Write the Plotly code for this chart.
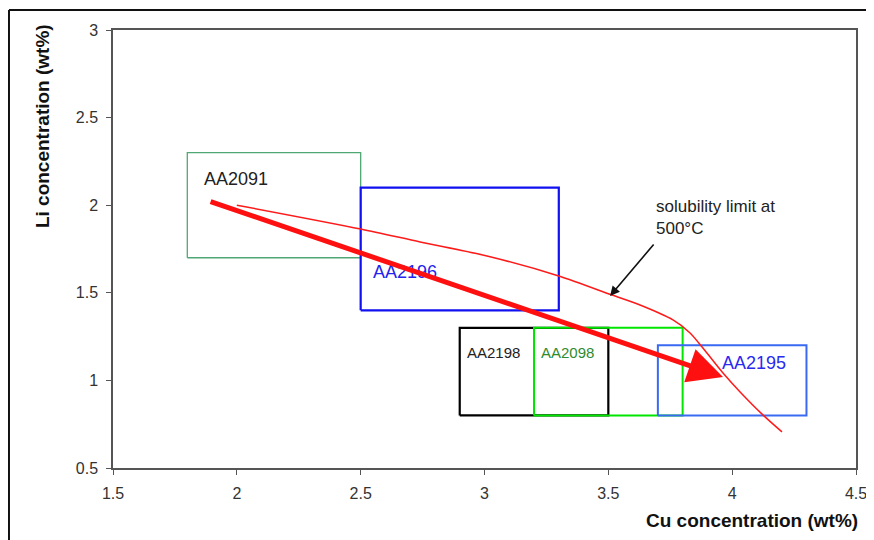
import plotly.graph_objects as go

# ---- data ----
alloys = ["AA2091", "AA2196", "AA2198", "AA2098", "AA2195"]
cu_min = [1.8, 2.5, 2.9, 3.2, 3.7]
cu_max = [2.5, 3.3, 3.5, 3.8, 4.3]
li_min = [1.7, 1.4, 0.8, 0.8, 0.8]
li_max = [2.3, 2.1, 1.3, 1.3, 1.2]
box_colors = ["#4fa874", "#1010f0", "#000000", "#00e600", "#3a6af2"]
box_widths = [1.3, 2.2, 2.2, 2.0, 2.0]
label_colors = ["#222222", "#2323ee", "#222222", "#2e8b2e", "#2a2aee"]
label_sizes = [18, 18, 15, 15, 18]
label_x = [1.86, 2.54, 2.92, 3.22, 3.95]
label_y = [2.15, 1.62, 1.16, 1.16, 1.1]

sol_cu = [2.0, 2.5, 2.74, 3.01, 3.30, 3.515, 3.628, 3.761, 3.83, 3.898, 3.963, 4.032, 4.124, 4.201]
sol_li = [2.0, 1.864, 1.79, 1.71, 1.596, 1.487, 1.43, 1.345, 1.271, 1.156, 1.042, 0.934, 0.803, 0.706]

trend_start = [1.888, 2.024]
trend_end = [3.963, 1.019]

note_text = "solubility limit at<br>500°C"
note_tail = [3.688, 1.784]
note_tip = [3.507, 1.482]

x_ticks = [1.5, 2, 2.5, 3, 3.5, 4, 4.5]
y_ticks = [0.5, 1, 1.5, 2, 2.5, 3]

FONT = "Arial, 'Liberation Sans', sans-serif"

fig = go.Figure()

# boxes
for i in range(len(alloys)):
    fig.add_trace(go.Scatter(
        x=[cu_min[i], cu_max[i], cu_max[i], cu_min[i], cu_min[i]],
        y=[li_min[i], li_min[i], li_max[i], li_max[i], li_min[i]],
        mode="lines", line=dict(color=box_colors[i], width=box_widths[i]),
        hoverinfo="skip", showlegend=False))

# solubility curve
fig.add_trace(go.Scatter(x=sol_cu, y=sol_li, mode="lines",
                         line=dict(color="#ff1a1a", width=1.5, shape="spline", smoothing=0.8),
                         showlegend=False, hoverinfo="skip"))

annotations = []
for i in range(len(alloys)):
    annotations.append(dict(x=label_x[i], y=label_y[i], xref="x", yref="y",
                            text=alloys[i], showarrow=False, xanchor="left",
                            yanchor="middle",
                            font=dict(family=FONT, size=label_sizes[i], color=label_colors[i])))

# thick trend arrow
annotations.append(dict(x=trend_end[0], y=trend_end[1], ax=trend_start[0], ay=trend_start[1],
                        xref="x", yref="y", axref="x", ayref="y", text="",
                        showarrow=True, arrowhead=2, arrowsize=1.4, arrowwidth=5,
                        arrowcolor="#ff1010", standoff=0))

# note arrow
annotations.append(dict(x=note_tip[0], y=note_tip[1], ax=note_tail[0], ay=note_tail[1],
                        xref="x", yref="y", axref="x", ayref="y", text="",
                        showarrow=True, arrowhead=2, arrowsize=1.2, arrowwidth=1.6,
                        arrowcolor="#111111", standoff=0))
annotations.append(dict(x=3.685, y=1.8, xref="x", yref="y", text=note_text,
                        showarrow=False, xanchor="left", yanchor="bottom", align="left",
                        font=dict(family=FONT, size=17, color="#222222")))

# axis titles
annotations.append(dict(x=1.005, y=-0.119, xref="paper", yref="paper",
                        text="<b>Cu concentration (wt%)</b>", showarrow=False,
                        xanchor="right", yanchor="middle",
                        font=dict(family=FONT, size=19, color="#111111")))
annotations.append(dict(x=-0.0956, y=1.018, xref="paper", yref="paper",
                        text="<b>Li concentration (wt%)</b>", showarrow=False,
                        textangle=-90, xanchor="center", yanchor="top",
                        font=dict(family=FONT, size=19, color="#111111")))

fig.update_layout(
    width=866, height=532,
    margin=dict(l=105, r=18, t=22, b=72, autoexpand=False),
    paper_bgcolor="white", plot_bgcolor="white",
    annotations=annotations,
    shapes=[
        dict(type="line", xref="paper", yref="paper", x0=-0.140, x1=1.1, y0=1.0457, y1=1.0457,
             line=dict(color="#111111", width=2)),
        dict(type="line", xref="paper", yref="paper", x0=-0.140, x1=-0.140, y0=1.0457, y1=-0.2,
             line=dict(color="#111111", width=2)),
    ],
    xaxis=dict(range=[1.5, 4.5], tickvals=x_ticks, ticktext=[str(v) for v in x_ticks],
               showgrid=False, zeroline=False, showline=True, linecolor="#555555",
               linewidth=1.5, mirror=True, ticks="outside", ticklen=5, tickcolor="#555555",
               ticklabelstandoff=5,
               tickfont=dict(family=FONT, size=16, color="#333333")),
    yaxis=dict(range=[0.5, 3], tickvals=y_ticks, ticktext=[str(v) for v in y_ticks],
               showgrid=False, zeroline=False, showline=True, linecolor="#555555",
               linewidth=1.5, mirror=True, ticks="outside", ticklen=5, tickcolor="#555555",
               ticklabelstandoff=5,
               tickfont=dict(family=FONT, size=16, color="#333333")),
)

fig.write_html("out.html")
